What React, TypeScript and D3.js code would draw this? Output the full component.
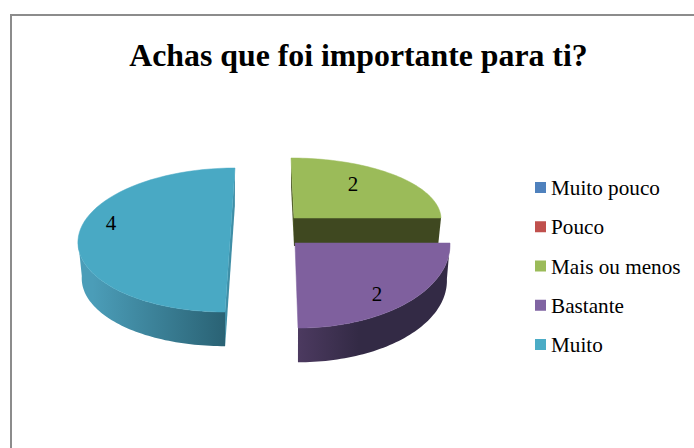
import React from "react";
import * as d3 from "d3";

const categories = ["Muito pouco", "Pouco", "Mais ou menos", "Bastante", "Muito"];
const values = [0, 0, 2, 2, 4];
const colors = ["#4f81bd", "#c0504d", "#9bbb59", "#8064a2", "#4bacc6"];
const faceColors = ["#4f81bd", "#c0504d", "#9bbb59", "#7f609e", "#49a9c4"];
const title = "Achas que foi importante para ti?";

type View = {
  cx: number; cy: number; rx: number; ry: number; shear: number; depth: number; k: number;
  wall: string; wallFrom?: string; wallTo?: string; sliver?: string; label: [number, number];
};
// Perspective projection of each exploded slice, by category index
const views: Record<number, View> = {
  2: { cx: 294, cy: 218, rx: 147, ry: 60, shear: -3, depth: 28, k: 0.98, wall: "#3f4820", sliver: "#4e5a28", label: [353, 191] },
  3: { cx: 295, cy: 243, rx: 155, ry: 85, shear: -3, depth: 36, k: 0.98, wall: "url(#g3)", wallFrom: "#4c3a60", wallTo: "#332a45", label: [377, 301] },
  4: { cx: 230, cy: 240, rx: 152, ry: 72, shear: 5, depth: 36, k: 0.975, wall: "url(#g4)", wallFrom: "#4b9db8", wallTo: "#2a6274", sliver: "#3f8ea6", label: [111, 230] },
};

const pie = d3.pie<number>().sort(null)(values);
const line = d3.line<[number, number]>();

function top(v: View, a: number, r = 1): [number, number] {
  return [v.cx + r * (v.rx * Math.sin(a) + v.shear * Math.cos(a)), v.cy - r * v.ry * Math.cos(a)];
}
function bottom(v: View, a: number, r = 1): [number, number] {
  const [x, y] = top(v, a, r * v.k);
  return [x, y + v.depth];
}
function arcPts(f: (a: number) => [number, number], a0: number, a1: number) {
  return d3.range(0, 61).map((i) => f(a0 + ((a1 - a0) * i) / 60));
}

export default function App() {
  const legendY = d3.scalePoint<string>().domain(categories).range([188, 345]);
  return (
    <svg width={694} height={448} style={{ position: "absolute", left: 0, top: 0, background: "#fff" }} fontFamily="'Liberation Serif', serif">
      <defs>
        {[3, 4].map((i) => (
          <linearGradient key={i} id={`g${i}`} gradientUnits="objectBoundingBox" x1="0" x2="1" y1="0" y2="0">
            <stop offset={i === 3 ? "0" : "0.1"} stopColor={views[i].wallFrom} />
            <stop offset={i === 3 ? "0.4" : "1"} stopColor={views[i].wallTo} />
          </linearGradient>
        ))}
      </defs>
      <path d="M11 448V15H694" fill="none" stroke="#8c8c8c" strokeWidth={2} />
      <text x={358.5} y={66} textAnchor="middle" fontSize={31.8} fontWeight="bold" fill="#000">{title}</text>

      {pie.map((p, i) => {
        const v = views[i];
        if (!v || p.value === 0) return null;
        const a0 = p.startAngle, a1 = p.endAngle;
        const face = [top(v, a0, 0), ...arcPts((a) => top(v, a), a0, a1)];
        // outward wall: the part of the rim facing the viewer
        const rimFrom = Math.max(a0, Math.PI / 2), rimTo = Math.min(a1, (3 * Math.PI) / 2);
        const arcVisible = rimTo > rimFrom && a1 - a0 <= Math.PI + 0.01 && !(a1 <= Math.PI / 2);
        return (
          <g key={categories[i]}>
            {v.sliver && (
              <path
                fill={v.sliver}
                d={
                  i === 4
                    ? line([top(v, a1), top(v, a0), bottom(v, a0), bottom(v, a1)])! + "Z"
                    : line([top(v, a0), bottom(v, a0), bottom(v, a0, 0), top(v, a0, 0)])! + "Z"
                }
              />
            )}
            {a1 <= Math.PI / 2 + 0.001 ? (
              <path fill={v.wall} d={line([top(v, a1, 0), top(v, a1), bottom(v, a1), bottom(v, a1, 0)])! + "Z"} />
            ) : arcVisible ? (
              <path
                fill={v.wall}
                d={line([
                  ...arcPts((a) => top(v, a), rimFrom, rimTo),
                  ...arcPts((a) => bottom(v, a), rimTo, rimFrom),
                ])! + "Z"}
              />
            ) : null}
            <path d={line(face)! + "Z"} fill={faceColors[i]} stroke={faceColors[i]} strokeWidth={0.5} />
            <text x={v.label[0]} y={v.label[1]} textAnchor="middle" fontSize={21} fill="#000">{p.value}</text>
          </g>
        );
      })}

      {categories.map((c, i) => (
        <g key={c}>
          <rect x={535} y={legendY(c)! - 6} width={11} height={11} fill={colors[i]} />
          <text x={551} y={legendY(c)! + 7} fontSize={21.2} fill="#000">{c}</text>
        </g>
      ))}
    </svg>
  );
}
